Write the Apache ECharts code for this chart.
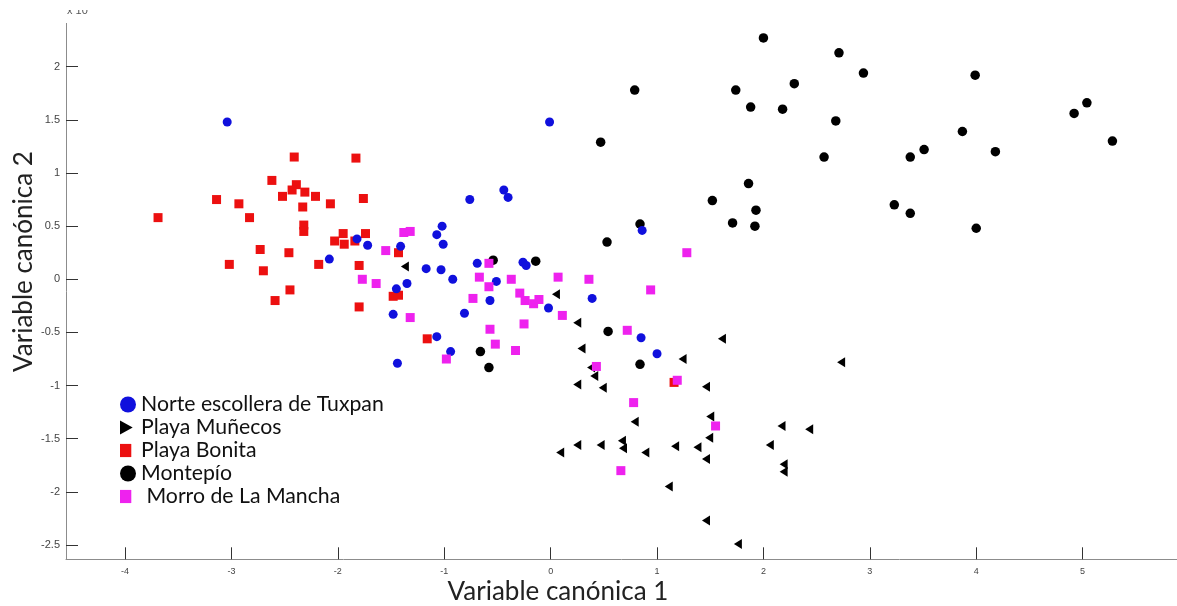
<!DOCTYPE html>
<html>
<head>
<meta charset="utf-8">
<script src="https://cdn.jsdelivr.net/npm/echarts@6/dist/echarts.min.js"></script>
<style>
html,body{margin:0;padding:0;background:#fff;}
#chart{width:1177px;height:606px;}
</style>
</head>
<body>
<div id="chart"></div>
<script>
// ---- Data (Variable canónica 1, Variable canónica 2) ----
const seriesNames = ['Norte escollera de Tuxpan', 'Playa Muñecos', 'Playa Bonita', 'Montepío', 'Morro de La Mancha'];

const norteTuxpan = [
  [-3.04,1.48],[-0.01,1.48],[-2.08,0.19],[-1.82,0.38],[-1.72,0.32],[-1.41,0.31],[-1.45,-0.09],[-1.35,-0.04],
  [-1.48,-0.33],[-1.44,-0.79],[-1.17,0.10],[-1.07,-0.54],[-1.07,0.42],[-1.02,0.50],[-1.01,0.33],[-1.03,0.09],
  [-0.92,0.00],[-0.81,-0.32],[-0.76,0.75],[-0.69,0.15],[-0.57,-0.20],[-0.51,-0.02],[-0.44,0.84],[-0.40,0.77],
  [-0.26,0.16],[-0.23,0.13],[-0.02,-0.27],[0.39,-0.18],[0.86,0.46],[0.85,-0.55],[1.00,-0.70],[-0.94,-0.68]
];

const playaMunecos = [
  [-1.37,0.12],[0.05,-0.14],[0.25,-0.41],[0.29,-0.65],[0.38,-0.83],[0.41,-0.91],[0.25,-0.99],[0.49,-1.02],
  [1.61,-0.56],[1.24,-0.75],[1.46,-1.01],[0.79,-1.34],[1.50,-1.29],[2.17,-1.38],[2.43,-1.41],[1.49,-1.49],
  [0.25,-1.56],[0.47,-1.56],[0.67,-1.52],[0.68,-1.59],[0.09,-1.63],[0.89,-1.63],[1.17,-1.57],[1.38,-1.58],
  [1.46,-1.69],[2.06,-1.56],[2.19,-1.74],[2.19,-1.81],[1.11,-1.95],[1.46,-2.27],[1.76,-2.49],[2.73,-0.78]
];

const playaBonita = [
  [-2.41,1.15],[-1.83,1.14],[-2.62,0.93],[-2.39,0.89],[-2.43,0.84],[-2.31,0.82],[-2.52,0.78],[-2.21,0.78],
  [-3.14,0.75],[-2.93,0.71],[-1.76,0.76],[-2.33,0.68],[-2.07,0.71],[-3.69,0.58],[-2.83,0.58],[-2.32,0.51],
  [-2.32,0.45],[-1.95,0.43],[-1.74,0.43],[-2.03,0.36],[-1.94,0.33],[-1.84,0.36],[-2.73,0.28],[-2.46,0.25],
  [-1.43,0.25],[-3.02,0.14],[-2.70,0.08],[-2.18,0.14],[-1.80,0.13],[-2.45,-0.10],[-2.59,-0.20],[-1.80,-0.26],
  [-1.48,-0.16],[-1.43,-0.15],[-1.16,-0.56],[1.16,-0.97]
];

const montepio = [
  [2.00,2.27],[2.71,2.13],[2.94,1.94],[3.99,1.92],[0.79,1.78],[1.74,1.78],[2.29,1.84],[1.88,1.62],
  [2.18,1.60],[2.68,1.49],[5.04,1.66],[4.92,1.56],[3.87,1.39],[5.28,1.30],[0.47,1.29],[3.51,1.22],
  [3.38,1.15],[2.57,1.15],[4.18,1.20],[1.86,0.90],[1.52,0.74],[1.93,0.65],[1.71,0.53],[1.92,0.50],
  [3.23,0.70],[3.38,0.62],[4.00,0.48],[0.84,0.52],[0.53,0.35],[-0.54,0.18],[-0.14,0.17],[-0.66,-0.68],
  [-0.58,-0.83],[0.54,-0.49],[0.84,-0.80]
];

const morroMancha = [
  [-1.38,0.44],[-1.32,0.45],[-1.55,0.27],[-1.77,0.00],[-1.64,-0.04],[-1.32,-0.36],[-0.58,0.15],[-0.67,0.02],
  [-0.58,-0.07],[-0.37,0.00],[0.07,0.02],[0.36,0.00],[-0.73,-0.18],[-0.29,-0.13],[-0.24,-0.20],[-0.16,-0.23],
  [-0.11,-0.19],[0.11,-0.34],[-0.25,-0.42],[-0.57,-0.47],[-0.52,-0.61],[-0.33,-0.67],[-0.98,-0.75],[0.43,-0.82],
  [0.94,-0.10],[1.28,0.25],[0.72,-0.48],[1.19,-0.95],[0.78,-1.16],[1.55,-1.38],[0.66,-1.80]
];

const xTickValues = [-4, -3, -2, -1, 0, 1, 2, 3, 4, 5];
const yTickValues = [-2.5, -2, -1.5, -1, -0.5, 0, 0.5, 1, 1.5, 2];
const xTitle = 'Variable canónica 1';
const yTitle = 'Variable canónica 2';
const exponentLabel = 'x 10';

// ---- helpers ----
function fitSize(text, family, target) {
  const c = document.createElement('canvas').getContext('2d');
  c.font = '100px ' + family;
  const w = c.measureText(text).width;
  return 100 * target / w;
}
const TITLE_FONT = 'Lato';
const titleSize = fitSize(xTitle, TITLE_FONT, 221);
const legendSize = fitSize(seriesNames[0], TITLE_FONT, 243);

const chart = echarts.init(document.getElementById('chart'), null, {renderer: 'canvas'});

const triIcon = 'path://M0,0 M17,17 M0,1 L13.5,8.5 L0,16 Z';
const sqIcon = 'path://M0,0 M17,17 M0,1.5 L12,1.5 L12,15.5 L0,15.5 Z';

const option = {
  animation: false,
  backgroundColor: '#ffffff',
  grid: {left: 66, top: 23.4, width: 1111, height: 535.9, containLabel: false},
  xAxis: {
    type: 'value', min: -4.555, max: 5.887,
    axisLine: {show: true, onZero: false, lineStyle: {color: '#8c8c8c', width: 1}},
    axisTick: {show: true, inside: true, length: 12, lineStyle: {color: '#333'}, customValues: xTickValues},
    axisLabel: {customValues: xTickValues, fontSize: 9, color: '#444', margin: 8, fontFamily: 'Liberation Sans'},
    splitLine: {show: false}
  },
  yAxis: {
    type: 'value', min: -2.634, max: 2.407,
    axisLine: {show: true, onZero: false, lineStyle: {color: '#8c8c8c', width: 1}},
    axisTick: {show: true, inside: true, length: 12, lineStyle: {color: '#333'}, customValues: yTickValues},
    axisLabel: {customValues: yTickValues, fontSize: 11, color: '#444', margin: 6, fontFamily: 'Liberation Sans'},
    splitLine: {show: false}
  },
  legend: {
    orient: 'vertical', left: 115, top: 389,
    itemWidth: 16, itemHeight: 17, itemGap: 2,
    symbolRotate: 0,
    textStyle: {fontSize: legendSize, lineHeight: 18, color: '#111', fontFamily: TITLE_FONT},
    formatter: function (n) { return n === 'Morro de La Mancha' ? ' ' + n : n; },
    data: [
      {name: seriesNames[0], icon: 'circle'},
      {name: seriesNames[1], icon: triIcon},
      {name: seriesNames[2], icon: sqIcon},
      {name: seriesNames[3], icon: 'circle'},
      {name: seriesNames[4], icon: sqIcon}
    ]
  },
  series: [
    {name: seriesNames[3], type: 'scatter', data: montepio, symbol: 'circle', symbolSize: 9.5,
     itemStyle: {color: '#000000', opacity: 1}},
    {name: seriesNames[1], type: 'scatter', data: playaMunecos, symbol: 'triangle', symbolSize: [10, 8], symbolRotate: 90,
     itemStyle: {color: '#000000', opacity: 1}},
    {name: seriesNames[2], type: 'scatter', data: playaBonita, symbol: 'rect', symbolSize: 9,
     itemStyle: {color: '#ec1010', opacity: 1}},
    {name: seriesNames[0], type: 'scatter', data: norteTuxpan, symbol: 'circle', symbolSize: 9,
     itemStyle: {color: '#1010dd', opacity: 1}},
    {name: seriesNames[4], type: 'scatter', data: morroMancha, symbol: 'rect', symbolSize: 9,
     itemStyle: {color: '#ee22ee', opacity: 1}}
  ],
  graphic: [
    {type: 'text', left: 67, top: 5, z: 10,
     style: {text: exponentLabel, fontSize: 11, fill: '#555', fontFamily: 'Liberation Sans'}},
    {type: 'rect', left: 60, top: 0, z: 11, shape: {width: 40, height: 10}, style: {fill: '#fff'}},
    {type: 'text', x: 558, y: 592, z: 10,
     style: {text: xTitle, fontSize: titleSize, fill: '#222', fontFamily: TITLE_FONT, align: 'center', verticalAlign: 'middle'}},
    {type: 'text', x: 24, y: 261.5, rotation: Math.PI / 2, z: 10,
     style: {text: yTitle, fontSize: titleSize, fill: '#222', fontFamily: TITLE_FONT, align: 'center', verticalAlign: 'middle'}}
  ]
};
chart.setOption(option);
</script>
</body>
</html>
